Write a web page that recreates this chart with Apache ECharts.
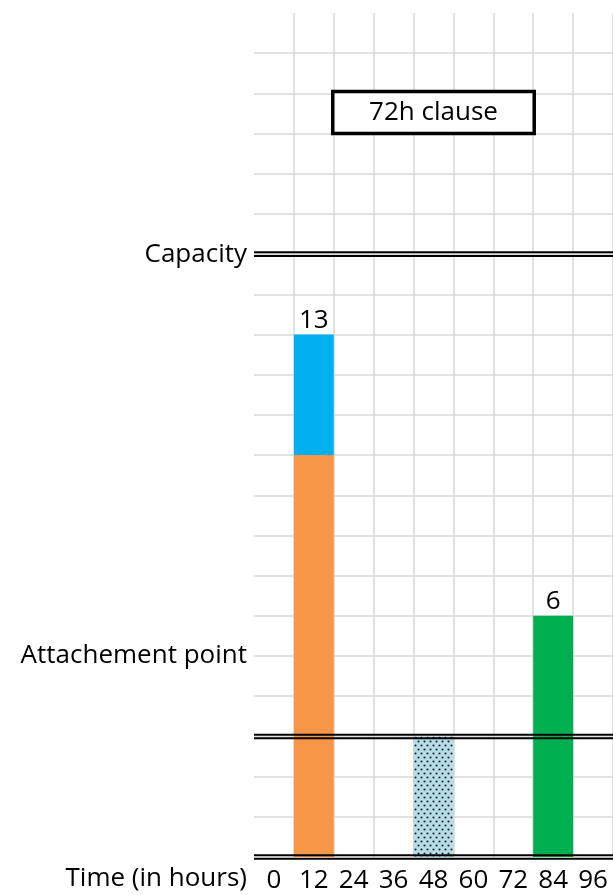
<!DOCTYPE html>
<html>
<head>
<meta charset="utf-8">
<style>
  html, body { margin: 0; padding: 0; background: #ffffff; }
  #chart { width: 613px; height: 895px; }
</style>
<script src="https://cdn.jsdelivr.net/npm/echarts@6/dist/echarts.min.js"></script>
</head>
<body>
<div id="chart"></div>
<script>
// Time buckets along the x axis (hours)
const categories = ['0', '12', '24', '36', '48', '60', '72', '84', '96'];
const xAxisTitle = 'Time (in hours)';

// Loss amounts per time bucket
const firstEventBase   = [null, 10, null, null, null, null, null, null, null];
const firstEventExcess = [null, 3,  null, null, null, null, null, null, null];
const pendingLoss      = [null, null, null, null, 3, null, null, null, null];
const secondEvent      = [null, null, null, null, null, null, null, 6, null];

// Named levels on the y axis
const yTickLabels = { 5: 'Attachement point', 15: 'Capacity' };
const levelLines = [0, 3, 15];

// Hours clause window: from / to bucket, low / high level
const clauseFrom = '12';
const clauseTo = '84';
const clauseRange = [18, 19];
const clauseText = '72h clause';

const FONT = 'Open Sans';
const GRID_COLOR = '#d9d9d9';

// Dotted fill for the pending bar
function dotPattern() {
  const c = document.createElement('canvas');
  c.width = 6; c.height = 8;
  const ctx = c.getContext('2d');
  ctx.fillStyle = '#b7dde8';
  ctx.fillRect(0, 0, 6, 8);
  ctx.fillStyle = '#1a2428';
  [[1.5, 1.5], [4.5, 5.5]].forEach(function (p) {
    ctx.beginPath();
    ctx.arc(p[0], p[1], 1.05, 0, Math.PI * 2);
    ctx.fill();
  });
  return c;
}

const chart = echarts.init(document.getElementById('chart'), null, { renderer: 'canvas' });

const labelStyle = { fontFamily: FONT, fontSize: 26, color: '#000' };

const option = {
  animation: false,
  backgroundColor: '#ffffff',
  textStyle: { fontFamily: FONT },
  grid: { left: 254, top: 13, width: 360, bottom: 38, containLabel: false },
  graphic: [
    {
      // Axis title placed on the tick-label row, left of the plot
      type: 'text',
      right: 613 - 247,
      top: 866,
      style: {
        text: xAxisTitle,
        fill: '#000',
        font: '26px "' + FONT + '"'
      }
    }
  ],
  xAxis: {
    type: 'category',
    data: categories,
    boundaryGap: true,
    axisLine: { show: false },
    axisTick: { show: false },
    axisLabel: Object.assign({ interval: 0, margin: 12, lineHeight: 24 }, labelStyle),
    splitLine: {
      show: true,
      interval: 0,
      showMinLine: false,
      lineStyle: { color: GRID_COLOR, width: 1.5 }
    }
  },
  yAxis: {
    type: 'value',
    min: 0,
    max: 21,
    interval: 1,
    axisLine: { show: false },
    axisTick: { show: false },
    axisLabel: Object.assign({
      margin: 7,
      padding: [6, 0, 0, 0],
      formatter: function (v) { return yTickLabels[v] || ''; }
    }, labelStyle),
    splitLine: {
      show: true,
      showMinLine: false,
      showMaxLine: false,
      lineStyle: { color: GRID_COLOR, width: 1.5 }
    }
  },
  series: [
    {
      type: 'bar',
      stack: 'loss',
      barCategoryGap: '0%',
      data: firstEventBase,
      itemStyle: { color: '#f79646' }
    },
    {
      type: 'bar',
      stack: 'loss',
      data: firstEventExcess,
      itemStyle: { color: '#00b0f0' },
      label: Object.assign({
        show: true,
        position: 'top',
        distance: 1,
        formatter: function (p) {
          return (firstEventBase[p.dataIndex] || 0) + (firstEventExcess[p.dataIndex] || 0);
        }
      }, labelStyle)
    },
    {
      type: 'bar',
      stack: 'loss',
      data: pendingLoss,
      itemStyle: { color: { image: dotPattern(), repeat: 'repeat' } }
    },
    {
      type: 'bar',
      stack: 'loss',
      data: secondEvent,
      itemStyle: { color: '#00b050' },
      label: Object.assign({ show: true, position: 'top', distance: 1 }, labelStyle)
    },
    {
      // Double horizontal rules at the named levels
      type: 'custom',
      clip: false,
      z: 5,
      encode: { x: 0, y: 1 },
      data: levelLines.map(function (v) { return [0, v]; }),
      renderItem: function (params, api) {
        const cs = params.coordSys;
        const y = api.coord([0, api.value(1)])[1];
        const lines = [-1.8, 1.8].map(function (d) {
          return {
            type: 'line',
            shape: { x1: cs.x, y1: y + d, x2: cs.x + cs.width, y2: y + d },
            style: { stroke: '#000', lineWidth: 2 }
          };
        });
        return { type: 'group', children: lines };
      }
    },
    {
      // Clause window box
      type: 'custom',
      clip: false,
      z: 6,
      encode: { x: [0, 1], y: [2, 3] },
      data: [[categories.indexOf(clauseFrom), categories.indexOf(clauseTo), clauseRange[0], clauseRange[1]]],
      renderItem: function (params, api) {
        const half = api.size([1, 0])[0] / 2;
        const p1 = api.coord([api.value(0), api.value(3)]);
        const p2 = api.coord([api.value(1), api.value(2)]);
        const x1 = p1[0] + half - 1;
        const x2 = p2[0] - half + 1;
        return {
          type: 'group',
          children: [
            {
              type: 'rect',
              shape: { x: x1, y: p1[1] - 2, width: x2 - x1, height: p2[1] - p1[1] + 2 },
              style: { fill: '#fff', stroke: '#000', lineWidth: 3.5 }
            },
            {
              type: 'text',
              x: (x1 + x2) / 2,
              y: (p1[1] + p2[1]) / 2 - 1,
              style: {
                text: clauseText,
                fill: '#000',
                font: '26px "' + FONT + '"',
                align: 'center',
                verticalAlign: 'middle'
              }
            }
          ]
        };
      }
    }
  ]
};

chart.setOption(option);
</script>
</body>
</html>
